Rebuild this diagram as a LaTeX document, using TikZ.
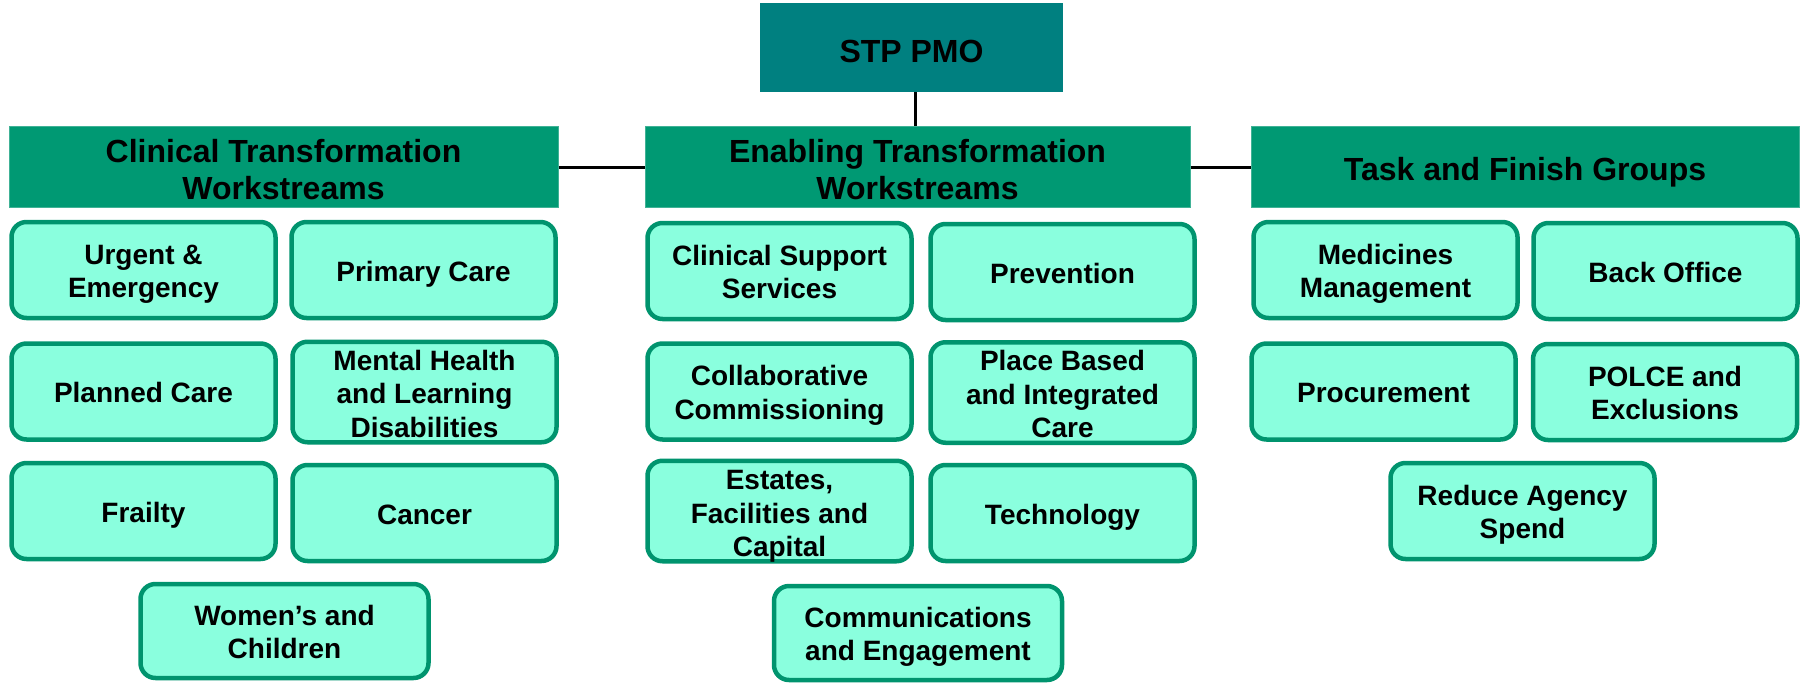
\documentclass[tikz,border=0pt]{standalone}
\usepackage{fontspec}
\setmainfont{Liberation Sans}
\definecolor{pmoteal}{RGB}{0,128,128}
\definecolor{hdrgreen}{RGB}{0,153,115}
\definecolor{boxfill}{RGB}{138,255,222}
\definecolor{boxline}{RGB}{0,148,110}
% centred block of lines, set a little lower than the box centre
\newcommand\lowtext[2][4.5pt]{\raisebox{-#1}[\height][\depth]{\begin{tabular}{@{}c@{}}#2\end{tabular}}}
\tikzset{
  pmo/.style={fill=pmoteal, minimum width=303pt, minimum height=89pt, inner sep=0pt,
    font=\fontsize{32}{37}\selectfont\bfseries},
  hdr/.style={fill=hdrgreen, draw=hdrgreen!75!white, line width=1pt, minimum height=81pt,
    inner sep=0pt, align=center, font=\fontsize{32}{36.8}\selectfont\bfseries},
  wsbox/.style={fill=boxfill, draw=boxline, line width=4.5pt, rounded corners=15pt,
    minimum width=264pt, minimum height=96pt, inner sep=0pt, align=center,
    font=\fontsize{28}{33.5}\selectfont\bfseries},
  widebox/.style={wsbox, minimum width=288pt, minimum height=94pt},
  link/.style={line width=3pt, black}
}
\begin{document}
\begin{tikzpicture}[x=1pt,y=-1pt]
\useasboundingbox (0,0) rectangle (1802,683);

% top of the hierarchy
\node[pmo] (pmo) at (911.5,47.5) {\lowtext[7.5pt]{STP PMO}};

% group headers
\node[hdr, minimum width=549pt] (clin) at (283.5,167) {\lowtext[6.5pt]{Clinical Transformation\\Workstreams}};
\node[hdr, minimum width=545pt] (enab) at (917.5,167) {\lowtext[6.5pt]{Enabling Transformation\\Workstreams}};
\node[hdr, minimum width=548pt] (task) at (1525,167) {\lowtext[6.5pt]{Task and Finish Groups}};

% connectors
\draw[link] (pmo.south -| 915,0) -- (enab.north -| 915,0);
\draw[link] (clin.east) -- (enab.west);
\draw[link] (enab.east) -- (task.west);

% clinical transformation workstreams
\node[wsbox] (urg)  at (143.5,270) {\lowtext{Urgent \&\\Emergency}};
\node[wsbox] (prim) at (423.5,270) {\lowtext{Primary Care}};
\node[wsbox] (plan) at (143.5,391.5) {\lowtext{Planned Care}};
\node[wsbox] (ment) at (424.5,392) {\lowtext[5pt]{Mental Health\\and Learning\\Disabilities}};
\node[wsbox] (frail) at (143.5,511) {\lowtext{Frailty}};
\node[wsbox] (canc) at (424.5,513) {\lowtext{Cancer}};
\node[widebox] (women) at (284.5,631) {\lowtext{Women’s and\\Children}};

% enabling transformation workstreams
\node[wsbox] (css)  at (779.5,271) {\lowtext{Clinical Support\\Services}};
\node[wsbox] (prev) at (1062.5,272) {\lowtext{Prevention}};
\node[wsbox] (coll) at (779.5,391.5) {\lowtext{Collaborative\\Commissioning}};
\node[wsbox] (place) at (1062.5,392.5) {\lowtext[5pt]{Place Based\\and Integrated\\Care}};
\node[wsbox] (est)  at (779.5,511) {\lowtext[5.5pt]{Estates,\\Facilities and\\Capital}};
\node[wsbox] (tech) at (1062.5,513) {\lowtext{Technology}};
\node[widebox] (comm) at (918,633) {\lowtext{Communications\\and Engagement}};

% task and finish groups
\node[wsbox] (med)  at (1385.5,270) {\lowtext{Medicines\\Management}};
\node[wsbox] (back) at (1665.5,271) {\lowtext{Back Office}};
\node[wsbox] (proc) at (1383.5,391.5) {\lowtext{Procurement}};
\node[wsbox] (polce) at (1665,392) {\lowtext{POLCE and\\Exclusions}};
\node[wsbox] (agency) at (1522.5,511) {\lowtext{Reduce Agency\\Spend}};
\end{tikzpicture}
\end{document}
